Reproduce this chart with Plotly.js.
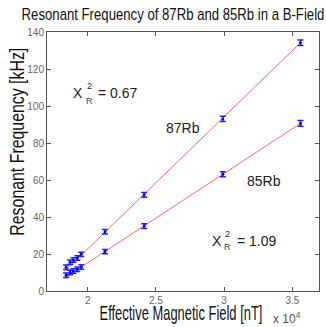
<!DOCTYPE html>
<html>
<head>
<meta charset="utf-8">
<script src="https://cdn.plot.ly/plotly-3.0.1.min.js"></script>
<style>html,body{margin:0;padding:0;background:#fff;}#chart{width:326px;height:327px;}</style>
</head>
<body>
<div id="chart"></div>
<script>
// Effective magnetic field [nT]
var fieldNT = [18420, 18710, 18950, 19240, 19530, 21270, 24140, 29900, 35590];
// Resonant frequencies [kHz]
var freq87 = [12.8, 15.5, 16.8, 17.8, 19.8, 32.0, 52.0, 93.0, 134.2];
var freq85 = [8.5, 10.0, 10.8, 11.8, 13.0, 21.3, 35.1, 63.1, 90.6];
var err87 = [1.2, 1.2, 1.2, 1.2, 1.2, 1.2, 1.3, 1.4, 1.5];
var err85 = [1.2, 1.2, 1.2, 1.2, 1.2, 1.2, 1.3, 1.4, 1.5];
// Linear fit lines (end points)
var fitField = [18300, 35590];
var fit87 = [10.6, 134.2];
var fit85 = [7.0, 90.6];
// Axis ticks
var xTickVals = [20000, 25000, 30000, 35000];
var xTickText = ['2', '2.5', '3', '3.5'];
var yTickVals = [0, 20, 40, 60, 80, 100, 120, 140];

var sans = 'Liberation Sans, Arial, sans-serif';

var traces = [
  {x: fitField, y: fit87, mode: 'lines', line: {color: 'rgb(255,105,105)', width: 1}, hoverinfo: 'none', showlegend: false},
  {x: fitField, y: fit85, mode: 'lines', line: {color: 'rgb(255,105,105)', width: 1}, hoverinfo: 'none', showlegend: false},
  {x: fieldNT, y: freq87, mode: 'markers', marker: {color: '#0000ff', size: 3},
   error_y: {type: 'data', array: err87, visible: true, color: '#2020ff', thickness: 1.5, width: 3}, showlegend: false},
  {x: fieldNT, y: freq85, mode: 'markers', marker: {color: '#0000ff', size: 3},
   error_y: {type: 'data', array: err85, visible: true, color: '#2020ff', thickness: 1.5, width: 3}, showlegend: false}
];

function px(x){return (x-47)/272;}
function py(y){return (291-y)/259;}
function ann(text, x, y, size, color, extra){
  var a = {text: text, x: px(x), y: py(y), xref: 'paper', yref: 'paper', showarrow: false,
    xanchor: 'center', yanchor: 'middle', font: {size: size, color: color, family: sans}};
  if (extra) for (var k in extra) a[k] = extra[k];
  return a;
}

var layout = {
  width: 326, height: 327,
  margin: {l: 47, r: 7, t: 32, b: 36, pad: 0},
  paper_bgcolor: '#fff', plot_bgcolor: '#fff',
  title: {text: 'Resonant Frequency of 87Rb and 85Rb in a B-Field', x: 173/326, xanchor: 'center', y: 1 - 14/327, yanchor: 'middle',
    font: {family: sans, size: 16, color: '#111'}},
  xaxis: {range: [17020, 36950], tickvals: xTickVals, ticktext: xTickText, ticks: 'inside', ticklen: 4, tickcolor: '#555',
    showline: true, linecolor: '#555', linewidth: 1, mirror: 'ticks', showgrid: false, zeroline: false,
    tickfont: {family: sans, size: 10, color: '#666'}},
  yaxis: {range: [0, 140], tickvals: yTickVals, ticks: 'inside', ticklen: 4, tickcolor: '#555',
    showline: true, linecolor: '#555', linewidth: 1, mirror: 'ticks', showgrid: false, zeroline: false,
    tickfont: {family: sans, size: 10, color: '#666'}},
  annotations: [
    ann('Effective Magnetic Field [nT]', 180.5, 313, 20, '#111'),
    ann('x 10<sup>4</sup>', 287, 317.5, 12, '#555'),
    ann('Resonant Frequency [kHz]', 16, 142, 21, '#111', {textangle: -90}),
    ann('87Rb', 183, 128, 14, '#222'),
    ann('85Rb', 264, 181, 14, '#222'),
    ann('X', 78, 92.5, 14, '#222'),
    ann('2', 89.5, 86, 9, '#222'),
    ann('R', 89.5, 101, 9, '#3a4a5a'),
    ann('= 0.67', 117.5, 92.5, 14, '#222'),
    ann('X', 216.5, 241, 14, '#222'),
    ann('2', 227.5, 233.5, 9, '#222'),
    ann('R', 227.5, 247, 9, '#3a4a5a'),
    ann('= 1.09', 257, 241, 14, '#222')
  ]
};

function squeeze(el, target){
  if (!el) return;
  var b = el.getBBox();
  if (!b.width) return;
  var s = target / b.width;
  var cx = b.x + b.width / 2, cy = b.y + b.height / 2;
  var t = el.getAttribute('transform') || '';
  el.setAttribute('transform', t + ' translate(' + cx + ',' + cy + ') scale(' + s + ',1) translate(' + (-cx) + ',' + (-cy) + ')');
}

Plotly.newPlot('chart', traces, layout, {staticPlot: true, displayModeBar: false}).then(function(){
  squeeze(document.querySelector('.gtitle'), 303);
  var anns = document.querySelectorAll('.annotation-text');
  squeeze(anns[0], 163);
  squeeze(anns[2], 188);
});
</script>
</body>
</html>
